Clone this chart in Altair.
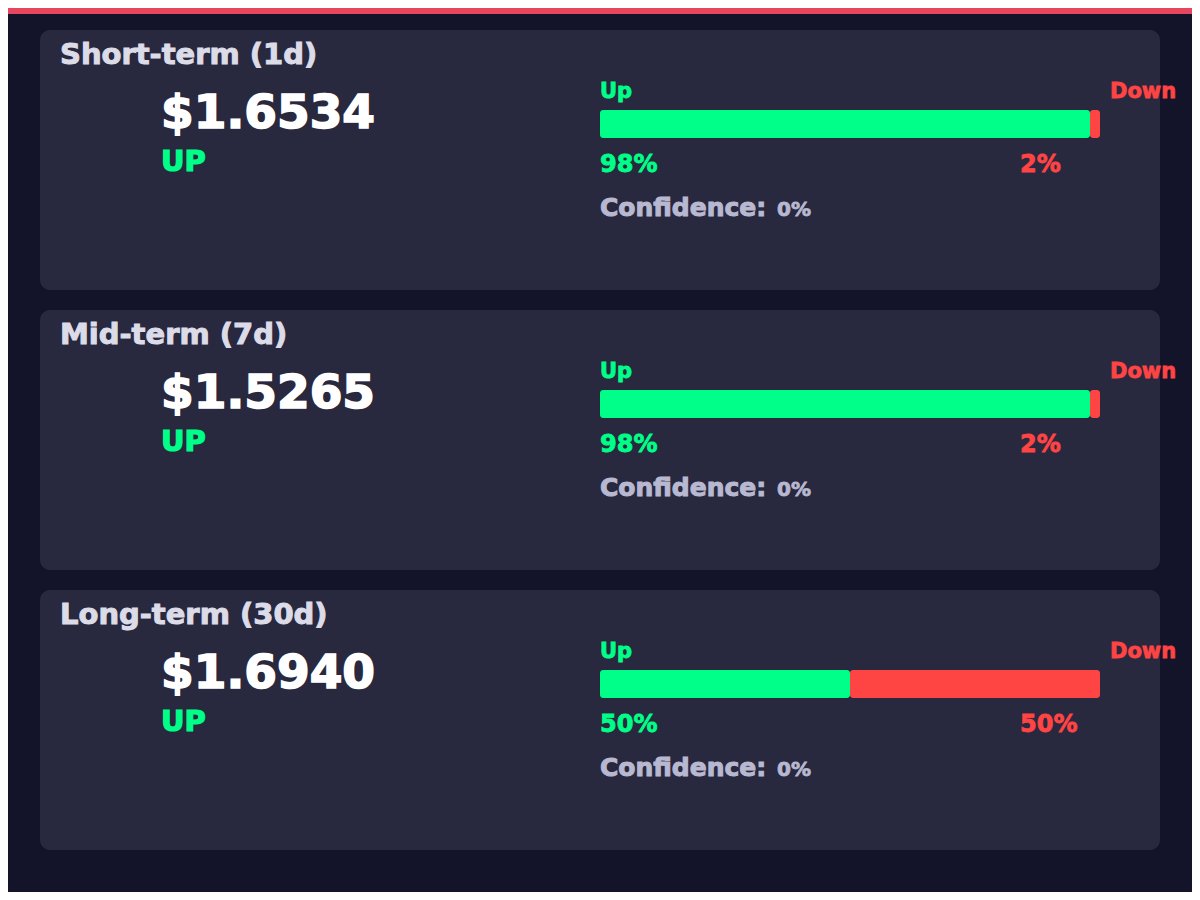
import altair as alt
import pandas as pd

# ---- data ----
horizons = ["Short-term (1d)", "Mid-term (7d)", "Long-term (30d)"]
prices = [1.6534, 1.5265, 1.6940]
directions = ["UP", "UP", "UP"]
up_probs = [98, 98, 50]
down_probs = [2, 2, 50]
confidences = [0, 0, 0]

df = pd.DataFrame({
    "horizon": horizons,
    "price": prices,
    "direction": directions,
    "up": up_probs,
    "down": down_probs,
    "confidence": confidences,
})

BG = "#13132a"
CARD = "#28283f"
TOP = "#e8455f"
TITLE = "#dcdce8"
GREEN = "#00ff88"
RED = "#ff4444"
CONF = "#b8b8d0"
FONT = "DejaVu Sans"

W, H = 1184, 884

yscale = alt.Scale(domain=horizons, range=[22, 842], paddingInner=1 / 14, paddingOuter=0)
xscale = alt.Scale(domain=[0, 100], range=[592, 1092])

base = alt.Chart(df)


def ytop():
    return alt.Y("horizon:N", bandPosition=0, scale=yscale, axis=None)


def text_layer(src, x, dy, size, color, text=None, field=None, sw=0.8):
    props = dict(align="left", baseline="alphabetic", dy=dy, font=FONT,
                 fontWeight="bold", fontSize=size, color=color,
                 stroke=color, strokeWidth=sw)
    if text is not None:
        props["text"] = text
    enc = dict(x=alt.value(x), y=ytop())
    if field is not None:
        enc["text"] = field
    return src.mark_text(**props).encode(**enc)


top_bar = alt.Chart(pd.DataFrame({"k": [0]})).mark_rect(color=TOP).encode(
    x=alt.value(0), x2=alt.value(W), y=alt.value(0), y2=alt.value(6)
)

cards = base.mark_rect(cornerRadius=10, color=CARD).encode(
    x=alt.value(32), x2=alt.value(1152),
    y=alt.Y("horizon:N", scale=yscale, axis=None),
)

title = text_layer(base, 52, 34, 29, TITLE, field="horizon:N", sw=1.0)
price = text_layer(
    base.transform_calculate(plabel="'$' + format(datum.price, '.4f')"),
    153, 98, 47, "#ffffff", field="plabel:N", sw=1.6)
direction = text_layer(base, 153, 141, 29, GREEN, field="direction:N", sw=1.2)
up_lbl = text_layer(base, 592, 68, 21, GREEN, text="Up")
down_lbl = text_layer(base, 1102, 68, 21, RED, text="Down")

green_bar = base.transform_calculate(s="0").mark_bar(
    size=28, yOffset=-36, cornerRadius=3, color=GREEN
).encode(
    x=alt.X("s:Q", scale=xscale, axis=None), x2="up:Q",
    y=alt.Y("horizon:N", scale=yscale, axis=None),
)
red_bar = base.transform_calculate(e="100").mark_bar(
    size=28, yOffset=-36, cornerRadius=3, color=RED
).encode(
    x=alt.X("up:Q", scale=xscale, axis=None), x2="e:Q",
    y=alt.Y("horizon:N", scale=yscale, axis=None),
)

up_pct = text_layer(base.transform_calculate(t="datum.up + '%'"),
                    592, 142, 24, GREEN, field="t:N")
down_pct = text_layer(base.transform_calculate(t="datum.down + '%'"),
                      1012, 142, 24, RED, field="t:N")

conf_lbl = text_layer(base, 592, 186, 25, CONF, text="Confidence:", sw=1.0)
conf_val = text_layer(base.transform_calculate(t="datum.confidence + '%'"),
                      769, 186, 20, CONF, field="t:N")

chart = alt.layer(
    top_bar, cards, title, price, direction, up_lbl, down_lbl,
    green_bar, red_bar, up_pct, down_pct, conf_lbl, conf_val
).properties(
    width=W, height=H,
    autosize=alt.AutoSizeParams(type="none"),
    padding=0,
    background=BG,
).configure_view(stroke=None)

chart.save("out.html", embed_options={"renderer": "svg", "actions": False})
